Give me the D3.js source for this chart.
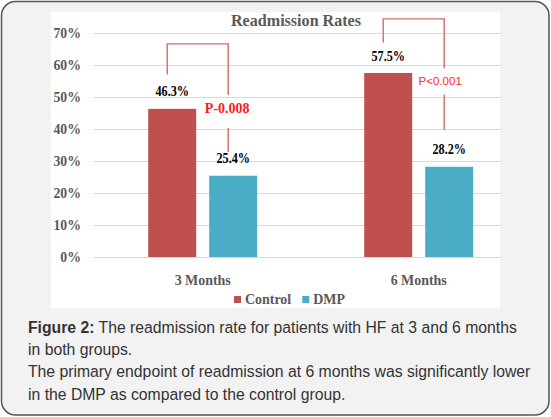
<!DOCTYPE html>
<html>
<head>
<meta charset="utf-8">
<script src="https://cdn.jsdelivr.net/npm/d3@7"></script>
<style>
	html, body { margin: 0; padding: 0; background: #fff; }
	svg { display: block; }
</style>
</head>
<body>
<div id="chartDiv"></div>
<script>
// chart values
const categories = ['3 Months', '6 Months'];
const seriesNames = ['Control', 'DMP'];
const controlValues = [46.3, 57.5];
const dmpValues = [25.4, 28.2];
const yTickValues = [0, 10, 20, 30, 40, 50, 60, 70];
const pValueLabels = ['P-0.008', 'P<0.001'];
const chartTitle = 'Readmission Rates';
const captionBold = 'Figure 2:';
const captionLines = [
	' The readmission rate for patients with HF at 3 and 6 months',
	'in both groups.',
	'The primary endpoint of readmission at 6 months was significantly lower',
	'in the DMP as compared to the control group.'
];

const seriesColors = ['#C0504D', '#4BACC6'];
const serif = '"Liberation Serif", "Times New Roman", serif';
const sans = '"Liberation Sans", Arial, sans-serif';

// bracket annotation layout, in % units of the y scale
const bracketLayout = [
	{ top: 66.6, leftEnd: 57.0, upperEnd: 50.6, textAt: 45.0, lowerStart: 40.3, lowerEnd: 32.8,
		font: serif, weight: 'bold', size: 14, color: '#ff1a1a', dx: -1 },
	{ top: 74.4, leftEnd: 67.0, upperEnd: 59.0, textAt: 53.8, lowerStart: 50.8, lowerEnd: 39.7,
		font: sans, weight: 'normal', size: 11.5, color: '#ff2a2a', dx: -4 }
];

const W = 551, H = 417;
const plot = { left: 94, right: 500, top: 33, bottom: 257 };

// squeeze text horizontally around its anchor (source image is narrow)
function squeeze(sel, k){
	sel.each(function(){
		const t = d3.select(this);
		const x = +t.attr('x') || 0;
		const y = +t.attr('y') || 0;
		t.attr('x', 0).attr('y', 0)
			.attr('transform', `translate(${x},${y}) scale(${k},1)`);
	});
}

function buildChart(){
	const svg = d3.select('#chartDiv').append('svg')
		.attr('width', W)
		.attr('height', H);

	// card background
	svg.append('rect')
		.attr('x', 1.5).attr('y', 1.5)
		.attr('width', W - 3.5).attr('height', H - 3.5)
		.attr('rx', 14)
		.attr('fill', '#f2f2f2')
		.attr('stroke', '#555')
		.attr('stroke-width', 1.5);

	// white chart area
	svg.append('rect')
		.attr('x', 51).attr('y', 12)
		.attr('width', 449).attr('height', 296)
		.attr('fill', '#fff');

	//Setup Scales
	const y = d3.scaleLinear().domain([0, 70]).range([plot.bottom, plot.top]);
	const x0 = d3.scaleBand().domain(categories).range([94.7, 526.7]).padding(0);
	const x1 = d3.scaleBand().domain(seriesNames).range([-54.5, 54.5]).paddingInner(0.213);
	const groupCenter = c => x0(c) + x0.bandwidth() / 2;

	// y axis with gridlines
	const yAxisG = svg.append('g')
		.attr('transform', `translate(${plot.left},0)`)
		.call(d3.axisLeft(y)
			.tickValues(yTickValues)
			.tickFormat(d => d + '%')
			.tickSize(-(plot.right - plot.left))
			.tickPadding(13));
	yAxisG.select('.domain').remove();
	yAxisG.selectAll('line').attr('stroke', '#d9d9d9').attr('stroke-width', 1);
	yAxisG.selectAll('text')
		.attr('font-family', serif)
		.attr('font-weight', 'bold')
		.attr('font-size', 15)
		.attr('fill', '#595959')
		.call(squeeze, 0.92);

	// bars
	const groups = categories.map((c, i) => ({
		cat: c,
		values: [controlValues[i], dmpValues[i]]
	}));

	const groupG = svg.selectAll('.grp')
		.data(groups)
		.enter()
		.append('g')
		.attr('class', 'grp')
		.attr('transform', d => `translate(${groupCenter(d.cat)},0)`);

	const barData = d => d.values.map((v, j) => ({ name: seriesNames[j], value: v, idx: j }));

	groupG.selectAll('rect')
		.data(barData)
		.enter()
		.append('rect')
		.attr('x', d => x1(d.name))
		.attr('y', d => y(d.value))
		.attr('width', x1.bandwidth())
		.attr('height', d => y(0) - y(d.value))
		.attr('fill', d => seriesColors[d.idx]);

	groupG.selectAll('.val')
		.data(barData)
		.enter()
		.append('text')
		.attr('class', 'val')
		.attr('x', d => x1(d.name) + x1.bandwidth() / 2)
		.attr('y', d => y(d.value) - 12.5)
		.attr('text-anchor', 'middle')
		.attr('font-family', serif)
		.attr('font-weight', 'bold')
		.attr('font-size', 14.5)
		.attr('fill', '#000')
		.text(d => d.value.toFixed(1) + '%')
		.call(squeeze, 0.84);

	// category labels
	svg.selectAll('.cat')
		.data(categories)
		.enter()
		.append('text')
		.attr('class', 'cat')
		.attr('x', d => groupCenter(d))
		.attr('y', 285)
		.attr('text-anchor', 'middle')
		.attr('font-family', serif)
		.attr('font-weight', 'bold')
		.attr('font-size', 15)
		.attr('fill', '#595959')
		.text(d => d)
		.call(squeeze, 0.93);

	// p-value brackets
	categories.forEach((c, i) => {
		const b = bracketLayout[i];
		const xl = groupCenter(c) + x1('Control') + x1.bandwidth() / 2 - 5;
		const xr = groupCenter(c) + x1('DMP') + x1.bandwidth() / 2 - 5;
		const g = svg.append('g')
			.attr('fill', 'none')
			.attr('stroke', '#d46a6a')
			.attr('stroke-width', 1.4);
		g.append('path')
			.attr('d', `M${xl},${y(b.leftEnd)}V${y(b.top)}H${xr}V${y(b.upperEnd)}`);
		g.append('path')
			.attr('d', `M${xr},${y(b.lowerStart)}V${y(b.lowerEnd)}`);
		svg.append('text')
			.attr('x', xr + b.dx)
			.attr('y', y(b.textAt))
			.attr('text-anchor', 'middle')
			.attr('font-family', b.font)
			.attr('font-weight', b.weight)
			.attr('font-size', b.size)
			.attr('fill', b.color)
			.text(pValueLabels[i]);
	});

	// title
	svg.append('text')
		.attr('x', 296)
		.attr('y', 26)
		.attr('text-anchor', 'middle')
		.attr('font-family', serif)
		.attr('font-weight', 'bold')
		.attr('font-size', 17.5)
		.attr('fill', '#595959')
		.text(chartTitle)
		.call(squeeze, 0.92);

	// legend
	const legendG = svg.append('g').attr('transform', 'translate(234,0)');
	let lx = 0;
	seriesNames.forEach((name, j) => {
		legendG.append('rect')
			.attr('x', lx).attr('y', 296)
			.attr('width', 7).attr('height', 7)
			.attr('fill', seriesColors[j]);
		const t = legendG.append('text')
			.attr('x', lx + 11)
			.attr('y', 304)
			.attr('font-family', serif)
			.attr('font-weight', 'bold')
			.attr('font-size', 15)
			.attr('fill', '#595959')
			.text(name);
		const tw = t.node().getComputedTextLength() * 0.93;
		t.call(squeeze, 0.93);
		lx += 11 + tw + 11;
	});

	// caption
	const cap = svg.append('g')
		.attr('font-family', sans)
		.attr('font-size', 17)
		.attr('fill', '#333');
	captionLines.forEach((line, i) => {
		const t = cap.append('text')
			.attr('x', 28)
			.attr('y', 333 + i * 22.2);
		if (i === 0) {
			t.append('tspan').attr('font-weight', 'bold').text(captionBold);
		}
		t.append('tspan').text(line);
		t.call(squeeze, 0.927);
	});
}

buildChart();
</script>
</body>
</html>
